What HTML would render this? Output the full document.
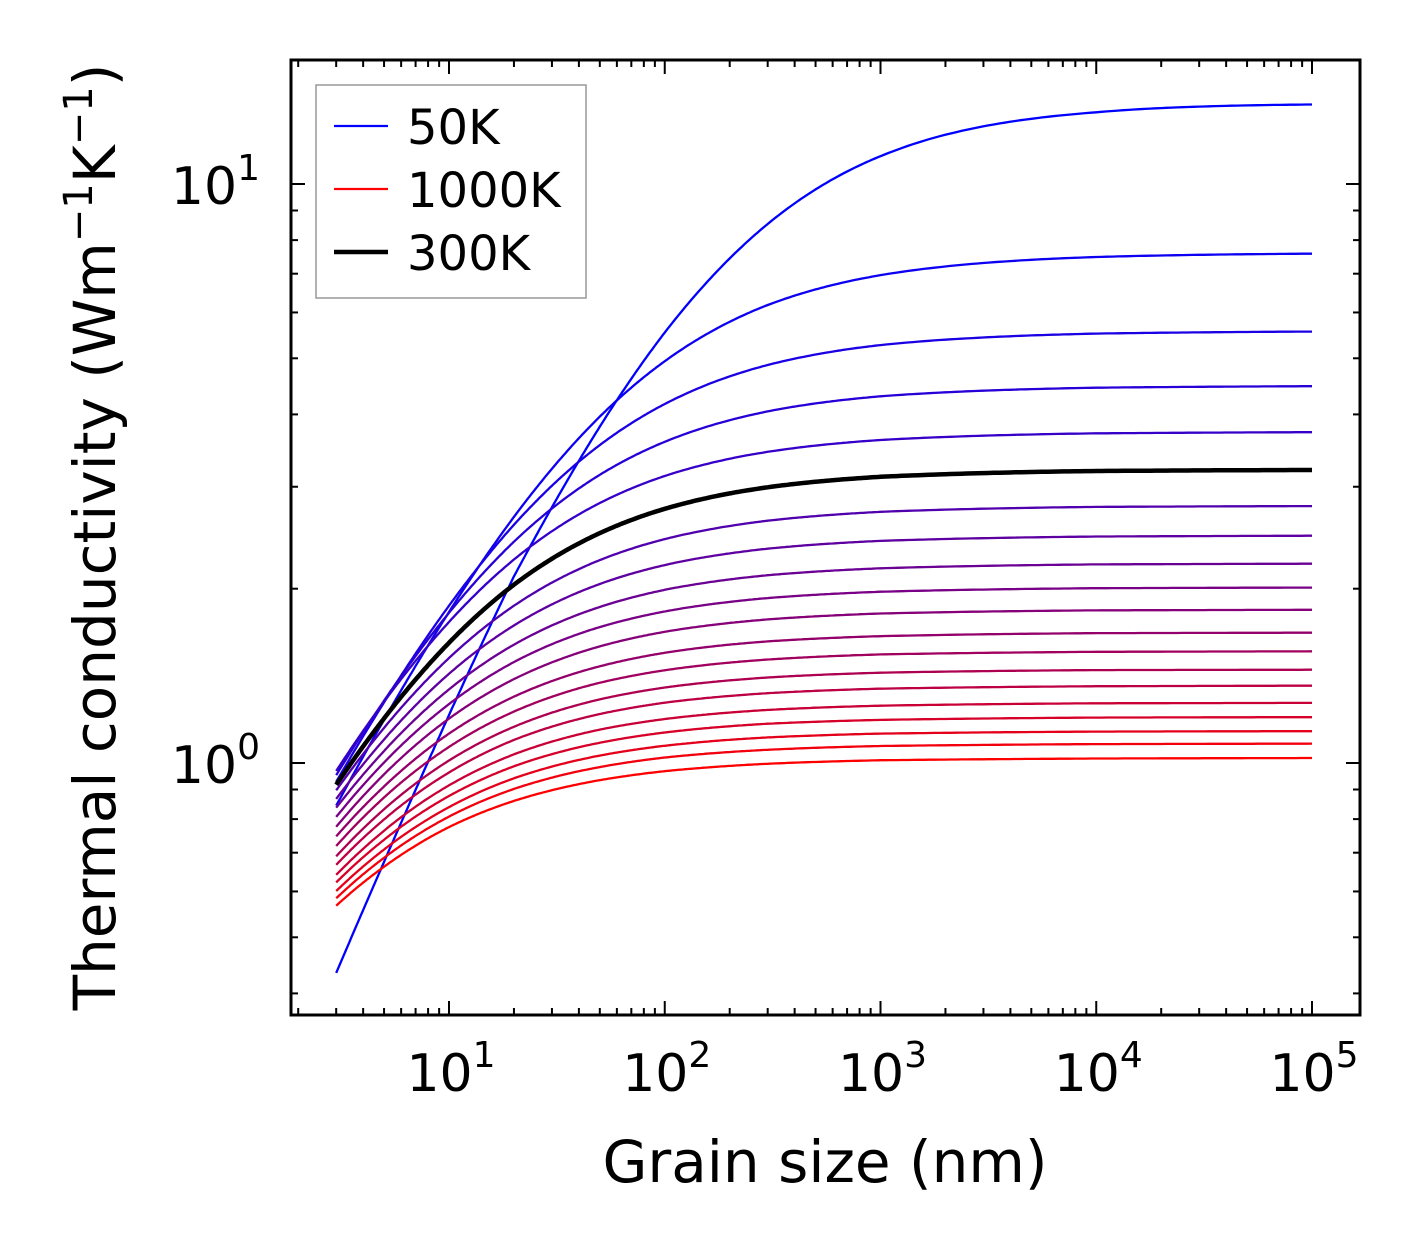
<!DOCTYPE html>
<html><head><meta charset="utf-8"><style>
html,body{margin:0;padding:0;background:#fff;}
svg{display:block;font-family:"DejaVu Sans","Liberation Sans",sans-serif;}
</style></head><body>
<svg id="chart" width="1421" height="1254" viewBox="0 0 1421 1254" xmlns="http://www.w3.org/2000/svg">
<rect x="0" y="0" width="1421" height="1254" fill="#fff"/>
<g id="curves"></g>
<g id="ticks"></g>
<rect x="291" y="60" width="1069" height="955" fill="none" stroke="#000" stroke-width="3"/>
<g id="labels" font-size="52" fill="#000"></g>
<text x="825" y="1182" font-size="58" text-anchor="middle">Grain size (nm)</text>
<text transform="translate(115,537) rotate(-90)" font-size="58" text-anchor="middle">Thermal conductivity (Wm<tspan font-size="40" dy="-23">−1</tspan><tspan dy="23">K</tspan><tspan font-size="40" dy="-23">−1</tspan><tspan dy="23">)</tspan></text>
<g>
<rect x="316" y="85" width="270" height="213" fill="#fff" stroke="#999" stroke-width="1.5"/>
<line x1="334" y1="126" x2="388" y2="126" stroke="#0000ff" stroke-width="2.3"/>
<text x="407" y="144" font-size="48">50K</text>
<line x1="334" y1="189" x2="388" y2="189" stroke="#ff0000" stroke-width="2.3"/>
<text x="407" y="207" font-size="48">1000K</text>
<line x1="334" y1="252" x2="388" y2="252" stroke="#000" stroke-width="4.5"/>
<text x="407" y="270" font-size="48">300K</text>
</g>
</svg>
<script>
const grainSizes = [3, 5, 10, 20, 50, 100, 300, 1000, 10000, 100000];
const temperatures = [50,100,150,200,250,300,350,400,450,500,550,600,650,700,750,800,850,900,950,1000];
const k50 = [0.434,0.675,1.21,2.10,3.81,5.54,8.53,11.17,13.30,13.72];
const k100 = [0.844,1.188,1.823,2.661,3.965,4.942,6.18,6.96,7.48,7.58];
const k150 = [0.928,1.273,1.869,2.579,3.541,4.169,4.869,5.270,5.516,5.561];
const k200 = [0.953,1.281,1.817,2.411,3.146,3.587,4.048,4.299,4.448,4.475];
const k250 = [0.969,1.276,1.752,2.246,2.812,3.131,3.447,3.613,3.710,3.727];
const k300 = [0.917,1.194,1.613,2.032,2.495,2.748,2.994,3.121,3.194,3.207];
const k350 = [0.897,1.150,1.518,1.869,2.241,2.436,2.621,2.715,2.769,2.778];
const k400 = [0.867,1.098,1.426,1.728,2.038,2.197,2.345,2.419,2.461,2.469];
const k450 = [0.837,1.049,1.340,1.601,1.860,1.991,2.110,2.169,2.203,2.209];
const k500 = [0.807,1.002,1.264,1.494,1.717,1.827,1.927,1.976,2.004,2.009];
const k550 = [0.776,0.956,1.193,1.396,1.590,1.685,1.770,1.812,1.835,1.839];
const k600 = [0.747,0.911,1.124,1.302,1.469,1.550,1.622,1.656,1.676,1.679];
const k650 = [0.719,0.872,1.066,1.227,1.376,1.446,1.509,1.540,1.556,1.559];
const k700 = [0.690,0.832,1.010,1.155,1.288,1.350,1.405,1.432,1.447,1.449];
const k750 = [0.667,0.799,0.963,1.096,1.215,1.271,1.320,1.344,1.357,1.360];
const k800 = [0.641,0.764,0.915,1.035,1.142,1.191,1.235,1.256,1.268,1.270];
const k850 = [0.622,0.737,0.877,0.987,1.084,1.129,1.169,1.187,1.198,1.200];
const k900 = [0.601,0.709,0.839,0.941,1.030,1.071,1.107,1.124,1.133,1.135];
const k950 = [0.584,0.686,0.808,0.902,0.984,1.022,1.054,1.070,1.078,1.080];
const k1000 = [0.567,0.662,0.775,0.860,0.934,0.968,0.997,1.011,1.018,1.020];
const series = [k50,k100,k150,k200,k250,k300,k350,k400,k450,k500,k550,k600,k650,k700,k750,k800,k850,k900,k950,k1000];
const xTickLabels = ["1","2","3","4","5"];
const yTickLabels = ["0","1"];

const NS = "http://www.w3.org/2000/svg";
const X0=449, XD=215.75, Y0=763, YD=579;
function xs(v){return X0 + (Math.log10(v)-1)*XD;}
function ys(v){return Y0 - Math.log10(v)*YD;}
function mk(tag, attrs, parent){const e=document.createElementNS(NS,tag);for(const k in attrs)e.setAttribute(k,attrs[k]);parent.appendChild(e);return e;}

// smooth interpolation: linear in u = ln(sat/k - 1) vs log10(L)
function pathFor(vals){
  const sat=Math.max(...vals)*1.004;
  const U=vals.map(v=>Math.log(sat/v-1));
  const LX=grainSizes.map(g=>Math.log10(g));
  let s='';
  for(let i=0;i<LX.length-1;i++){
    const N=40;
    for(let j=(i===0?0:1);j<=N;j++){
      const t=j/N;
      const lx=LX[i]+t*(LX[i+1]-LX[i]);
      const u=U[i]+t*(U[i+1]-U[i]);
      const k=sat/(1+Math.exp(u));
      const px=xs(Math.pow(10,lx)), py=ys(k);
      s+=(s?' L':'M')+px.toFixed(1)+','+py.toFixed(1);
    }
  }
  return s;
}
const cg=document.getElementById('curves');
const order=[...series.keys()].filter(i=>temperatures[i]!==300);
order.push(temperatures.indexOf(300));
order.forEach(i=>{
  const t=i/(series.length-1);
  const col=temperatures[i]===300?'#000':'rgb('+Math.round(255*t)+',0,'+Math.round(255*(1-t))+')';
  const p=mk('path',{d:pathFor(series[i]),fill:'none',stroke:col,'stroke-width':temperatures[i]===300?4.5:2.3,'stroke-linejoin':'round'},cg);
  
  
});

const tg=document.getElementById('ticks');
const L=291,R=1360,T=60,B=1015;
for(let e=0;e<=5;e++){for(let m=1;m<=9;m++){
  const x=xs(m*Math.pow(10,e));
  if(x<L+1||x>R-1)continue;
  const len=m===1?14:7;
  const a=mk('line',{x1:x,y1:B,x2:x,y2:B-len,stroke:'#000','stroke-width':2},tg);
  
  
  const b=mk('line',{x1:x,y1:T,x2:x,y2:T+len,stroke:'#000','stroke-width':2},tg);
  
  
}}
for(let e=-1;e<=1;e++){for(let m=1;m<=9;m++){
  const y=ys(m*Math.pow(10,e));
  if(y<T+1||y>B-1)continue;
  const len=m===1?14:7;
  const a=mk('line',{x1:L,y1:y,x2:L+len,y2:y,stroke:'#000','stroke-width':2},tg);
  
  
  const b=mk('line',{x1:R,y1:y,x2:R-len,y2:y,stroke:'#000','stroke-width':2},tg);
  
  
}}

const lg=document.getElementById('labels');
xTickLabels.forEach(s=>{
  const tx=mk('text',{x:xs(Math.pow(10,+s))+2,y:1091,'text-anchor':'middle'},lg);
  
  
  tx.innerHTML='10<tspan font-size="36" dy="-24">'+s+'</tspan>';
});
yTickLabels.forEach(s=>{
  const tx=mk('text',{x:260,y:ys(Math.pow(10,+s))+20,'text-anchor':'end'},lg);
  
  
  tx.innerHTML='10<tspan font-size="36" dy="-24">'+s+'</tspan>';
});
</script>
</body></html>
